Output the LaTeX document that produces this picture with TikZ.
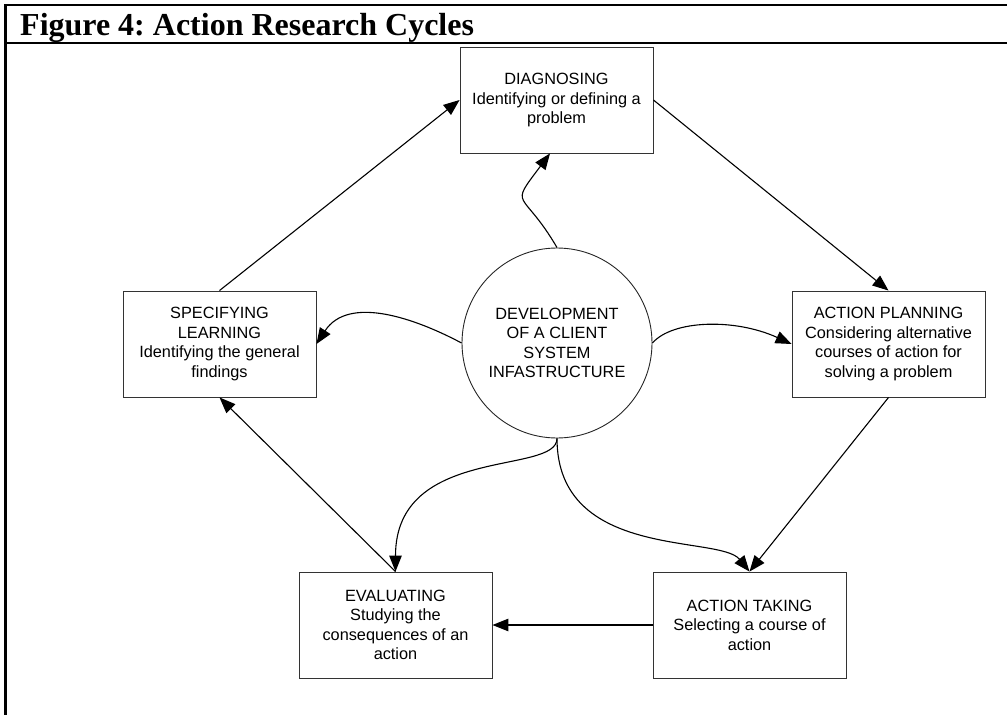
\documentclass[tikz,border=0pt]{standalone}
\usepackage{fontspec}
\setmainfont{Liberation Sans}
\newfontfamily\titlefont{Liberation Serif}
\usetikzlibrary{arrows.meta}
\frenchspacing

\tikzset{
  frame/.style={line width=2.2pt, line cap=rect},
  stage/.style={draw=black!80, line width=0.9pt, minimum width=193pt, minimum height=106pt,
    inner sep=0pt, align=center, font=\fontsize{16.3pt}{19.5pt}\selectfont},
  hub/.style={circle, draw=black!85, line width=0.9pt, minimum size=190pt, inner sep=0pt,
    align=center, font=\fontsize{16.3pt}{19.5pt}\selectfont},
  arr/.style={-{Triangle[length=16pt,width=12.5pt]}, line width=1.1pt}
}

\begin{document}
\begin{tikzpicture}[x=1pt, y=-1pt]
  \useasboundingbox (0,0) rectangle (1007,715);

  % page frame and caption
  \coordinate (tl) at (5.5,5);
  \coordinate (tr) at (1007,5);
  \coordinate (bl) at (5.5,715);
  \coordinate (sl) at (5.5,43);
  \coordinate (sr) at (1007,43);
  \draw[frame] (tr) -- (tl) -- (bl);
  \draw[frame] (sl) -- (sr);
  \node[anchor=base west, inner sep=0pt, font=\titlefont\bfseries\fontsize{32pt}{36pt}\selectfont]
    (title) at (20,35.5) {Figure 4: Action Research Cycles};

  % the five stages of the cycle
  \node[stage] (diag) at (556.5,100) {DIAGNOSING\\Identifying or defining a\\problem};
  \node[stage] (plan) at (888.5,344) {ACTION PLANNING\\Considering alternative\\courses of action for\\solving a problem};
  \node[stage] (take) at (749.5,625) {ACTION TAKING\\Selecting a course of\\action};
  \node[stage] (eval) at (395.5,625) {EVALUATING\\Studying the\\consequences of an\\action};
  \node[stage] (spec) at (219.5,344) {SPECIFYING\\LEARNING\\Identifying the general\\findings};

  % client-system infrastructure in the middle
  \node[hub] (core) at (557,343) {DEVELOPMENT\\OF A CLIENT\\SYSTEM\\INFASTRUCTURE};

  % the cycle
  \draw[arr] (diag.east) -- (plan.north);
  \draw[arr] (plan.south) -- (take.north);
  \draw[arr] (take.west) -- (eval.east);
  \draw[arr] (eval.north) -- (spec.south);
  \draw[arr] (spec.north) -- (diag.west);

  % links from the infrastructure to each stage
  \draw[arr] (core.north) .. controls +(-35,-60) and +(-42,56) .. ([xshift=-6.5pt]diag.south);
  \draw[arr] (core.west) .. controls +(-47,-25) and +(32,-49) .. (spec.east);
  \draw[arr] (core.east) .. controls +(20,-23) and +(-57,-26) .. (plan.west);
  \draw[arr] (core.south) .. controls +(0,122) and +(-30,-37) .. (take.north);
  \draw[arr] (core.south) .. controls +(0,37) and +(0,-127) .. (eval.north);
\end{tikzpicture}
\end{document}
